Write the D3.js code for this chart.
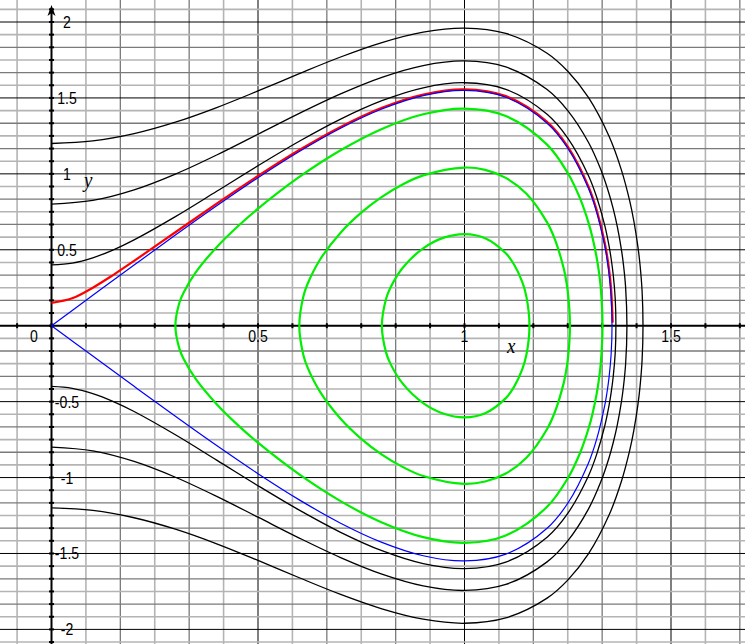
<!DOCTYPE html>
<html><head><meta charset="utf-8">
<script src="https://cdn.jsdelivr.net/npm/d3@7"></script>
<style>body{margin:0;background:#fff} svg{display:block}</style>
</head><body><svg id="c" width="745" height="644"></svg>
<script>
// Upper halves of the trajectories: [x, y]
const blackOuter = [[0,1.2],[0.1,1.2166],[0.2,1.2647],[0.3,1.3402],[0.4,1.4365],[0.5,1.546],[0.6,1.66],[0.7,1.7695],[0.8,1.8643],[0.9,1.9327],[1.0,1.9596],[1.1,1.9244],[1.2,1.7941],[1.25,1.6755],[1.3,1.5031],[1.35,1.2472],[1.38,1.0246],[1.4,0.8215],[1.41,0.6895],[1.42,0.5176],[1.425,0.4013],[1.43,0.2281],[1.4322,0]];
const blackMiddle = [[0,0.8],[0.1,0.8246],[0.2,0.8941],[0.3,0.9981],[0.4,1.1241],[0.5,1.261],[0.6,1.3984],[0.7,1.5268],[0.8,1.6358],[0.9,1.7133],[1.0,1.7436],[1.1,1.7039],[1.2,1.5552],[1.25,1.4168],[1.3,1.208],[1.33,1.0281],[1.35,0.8692],[1.36,0.7709],[1.37,0.6525],[1.38,0.4997],[1.385,0.3987],[1.39,0.2573],[1.3933,0]];
const blackInner = [[0,0.4],[0.05,0.4123],[0.1,0.4472],[0.15,0.4999],[0.2,0.5652],[0.3,0.7184],[0.4,0.8852],[0.5,1.0536],[0.6,1.2147],[0.7,1.3606],[0.8,1.4818],[0.9,1.5669],[1.0,1.6],[1.1,1.5567],[1.2,1.3924],[1.25,1.2358],[1.3,0.9896],[1.32,0.8471],[1.34,0.6556],[1.35,0.5249],[1.355,0.4425],[1.36,0.338],[1.365,0.1758],[1.3666,0]];
const redPath = [[0,0.15],[0.05,0.1803],[0.1,0.25],[0.15,0.3352],[0.2,0.4266],[0.3,0.6153],[0.4,0.8038],[0.5,0.9862],[0.6,1.1568],[0.7,1.309],[0.8,1.4347],[0.9,1.5224],[1.0,1.5565],[1.1,1.5118],[1.2,1.3421],[1.25,1.1788],[1.3,0.9175],[1.32,0.7617],[1.34,0.5406],[1.35,0.3716],[1.355,0.2414],[1.3588,0.02]];
const bluePath = [[0,0],[0.1,0.2],[0.2,0.3994],[0.3,0.5968],[0.4,0.7897],[0.5,0.9747],[0.6,1.147],[0.7,1.3004],[0.8,1.4268],[0.9,1.515],[1.0,1.5492],[1.1,1.5044],[1.2,1.3337],[1.25,1.1693],[1.3,0.9052],[1.32,0.7468],[1.34,0.5194],[1.345,0.4399],[1.35,0.3399],[1.355,0.1892],[1.3572,0]];
const greenOuter = [[0.3,0],[0.31,0.154],[0.32,0.2194],[0.35,0.3542],[0.4,0.5172],[0.45,0.6514],[0.5,0.7706],[0.6,0.9795],[0.7,1.1554],[0.8,1.296],[0.9,1.3925],[1.0,1.4296],[1.1,1.381],[1.2,1.1927],[1.25,1.0055],[1.28,0.8366],[1.3,0.6806],[1.31,0.5793],[1.32,0.4489],[1.325,0.3634],[1.33,0.2469],[1.3341,0]];
const greenMiddle = [[0.6,0],[0.61,0.1941],[0.62,0.2747],[0.65,0.4345],[0.7,0.6128],[0.75,0.7448],[0.8,0.8486],[0.85,0.9298],[0.9,0.9898],[1.0,1.0414],[1.05,1.0258],[1.1,0.9734],[1.15,0.8696],[1.2,0.6805],[1.22,0.5601],[1.24,0.3798],[1.245,0.314],[1.25,0.2272],[1.2553,0]];
const greenInner = [[0.8,0],[0.81,0.1755],[0.82,0.2464],[0.85,0.3799],[0.9,0.5094],[0.95,0.5799],[1.0,0.6036],[1.05,0.5764],[1.1,0.4769],[1.12,0.4027],[1.14,0.2864],[1.15,0.19],[1.1573,0]];

const yTickLabels = ["2","1.5","1","0.5","-0.5","-1","-1.5","-2"];
const yTickValues = [2,1.5,1,0.5,-0.5,-1,-1.5,-2];
const xTickLabels = ["0.5","1","1.5"];
const xTickValues = [0.5,1,1.5];

const W = 745, H = 644;
const svg = d3.select("#c");
const x = d3.scaleLinear().domain([0,1]).range([51.5,464.5]);
const y = d3.scaleLinear().domain([0,2]).range([325.7,22]);
const xmin = x.invert(0), xmax = x.invert(W), ymax = y.invert(0), ymin = y.invert(H);

// grid every 1/12
const g = svg.append("g");
function gridStyle(k){
  if (k % 6 === 0) return {c:"#000", w:1};
  if (k % 2 === 0) return {c:"#7a7a7a", w:1.3};
  return {c:"#b4b4b4", w:1.6};
}
for (let k = Math.ceil(xmin*12); k <= Math.floor(xmax*12); k++) {
  if (k === 0) continue;
  const s = gridStyle(Math.abs(k));
  g.append("line").attr("x1",x(k/12)).attr("x2",x(k/12)).attr("y1",0).attr("y2",H)
   .attr("stroke",s.c).attr("stroke-width",s.w);
}
for (let k = Math.ceil(ymin*12); k <= Math.floor(ymax*12); k++) {
  if (k === 0) continue;
  const s = gridStyle(Math.abs(k));
  g.append("line").attr("y1",y(k/12)).attr("y2",y(k/12)).attr("x1",0).attr("x2",W)
   .attr("stroke",s.c).attr("stroke-width",s.w);
}

// axes
svg.append("line").attr("x1",0).attr("x2",W).attr("y1",y(0)).attr("y2",y(0)).attr("stroke","#000").attr("stroke-width",2);
svg.append("line").attr("x1",x(0)).attr("x2",x(0)).attr("y1",H).attr("y2",8).attr("stroke","#000").attr("stroke-width",2);
svg.append("path").attr("d",`M${x(0)},5 L${x(0)-4},16 L${x(0)},13 L${x(0)+4},16 Z`).attr("fill","#000");
for (let k = Math.ceil(ymin*12); k <= Math.floor(ymax*12); k++) {
  svg.append("line").attr("x1",x(0)-2.5).attr("x2",x(0)+2.5).attr("y1",y(k/12)).attr("y2",y(k/12)).attr("stroke","#000").attr("stroke-width",2);
}
for (let k = Math.ceil(xmin*12); k <= Math.floor(xmax*12); k++) {
  svg.append("line").attr("y1",y(0)-2.5).attr("y2",y(0)+2.5).attr("x1",x(k/12)).attr("x2",x(k/12)).attr("stroke","#000").attr("stroke-width",2);
}

// tick labels
const font = "'Liberation Sans', Arial, sans-serif";
yTickLabels.forEach((t,i) => {
  svg.append("text").attr("transform",`translate(67,${y(yTickValues[i])+6}) scale(0.88,1)`)
    .attr("text-anchor","middle").attr("font-family",font).attr("font-size",16).attr("fill","#000").text(t);
});
xTickLabels.forEach((t,i) => {
  svg.append("text").attr("transform",`translate(${x(xTickValues[i])},342) scale(0.88,1)`)
    .attr("text-anchor","middle").attr("font-family",font).attr("font-size",16).attr("fill","#000").text(t);
});
svg.append("text").attr("transform",`translate(34,342) scale(0.88,1)`)
  .attr("text-anchor","middle").attr("font-family",font).attr("font-size",16).attr("fill","#000").text("0");
// axis names
svg.append("text").attr("transform","translate(84,187) scale(0.9,1)").attr("font-family","'Liberation Serif', serif")
  .attr("font-style","italic").attr("font-size",21).text("y");
svg.append("text").attr("transform","translate(507,353) scale(0.9,1)").attr("font-family","'Liberation Serif', serif")
  .attr("font-style","italic").attr("font-size",21).text("x");

// curves
const lineOpen = d3.line().x(d=>x(d[0])).y(d=>y(d[1])).curve(d3.curveCatmullRom.alpha(0.5));
const lineClosed = d3.line().x(d=>x(d[0])).y(d=>y(d[1])).curve(d3.curveCatmullRomClosed.alpha(0.5));
const fullOpen = up => up.concat(up.slice(0,-1).reverse().map(p=>[p[0],-p[1]]));
const fullClosed = up => up.concat(up.slice(1,-1).reverse().map(p=>[p[0],-p[1]]));

const cg = svg.append("g").attr("fill","none").attr("stroke-linejoin","round");
[blackOuter, blackMiddle, blackInner].forEach(c => {
  cg.append("path").attr("d",lineOpen(fullOpen(c))).attr("stroke","#000").attr("stroke-width",1.3);
});
[greenOuter, greenMiddle, greenInner].forEach(c => {
  cg.append("path").attr("d",lineClosed(fullClosed(c))).attr("stroke","#00ee00").attr("stroke-width",2.2);
});
cg.append("path").attr("d",lineOpen(redPath)).attr("stroke","#ff0000").attr("stroke-width",2.2);
cg.append("path").attr("d",lineOpen(fullOpen(bluePath))).attr("stroke","#0000ff").attr("stroke-width",1.2);
</script></body></html>
